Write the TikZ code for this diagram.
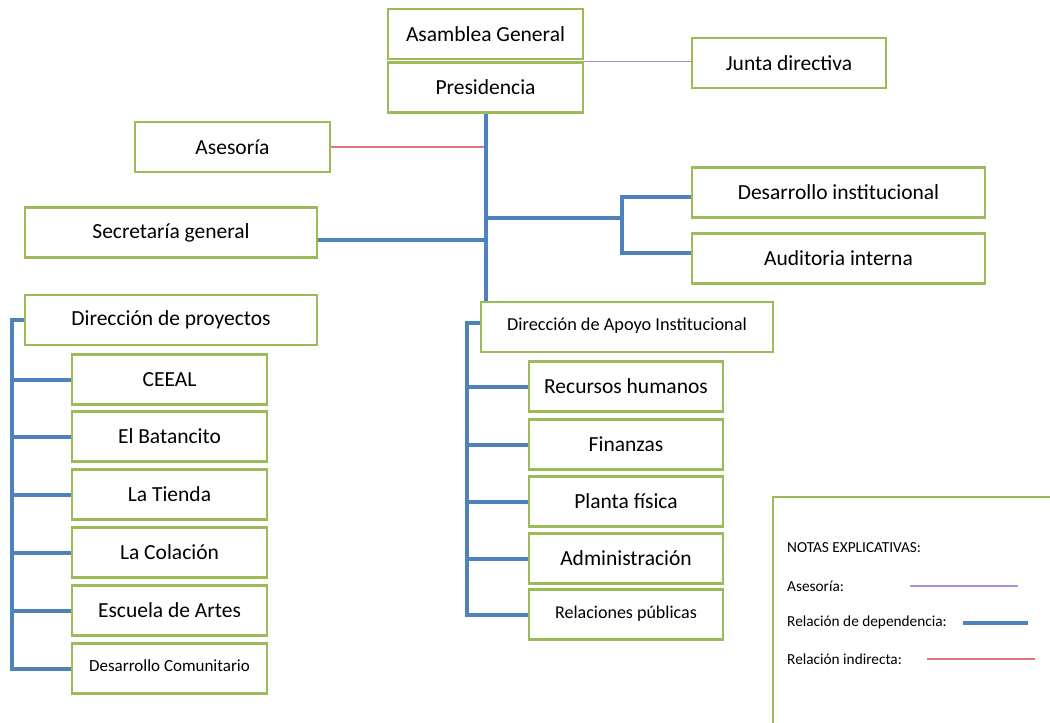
\documentclass[tikz,border=0pt]{standalone}
\usepackage{fontspec}
\setmainfont{Carlito}
\definecolor{boxgreen}{RGB}{155,187,89}
\definecolor{depblue}{RGB}{79,129,189}
\definecolor{asespurple}{RGB}{175,140,215}
\definecolor{indred}{RGB}{222,120,120}
\begin{document}
\begin{tikzpicture}[x=1pt, y=-1pt,
    unit/.style={draw=boxgreen, line width=2.2pt, fill=white, inner sep=2pt,
        minimum width=195pt, minimum height=50pt, font=\fontsize{21.5}{25}\selectfont},
    wideunit/.style={unit, minimum width=292pt},
    smallunit/.style={unit, font=\fontsize{15}{18}\selectfont},
    dep/.style={draw=depblue, line width=4pt},
    ases/.style={draw=asespurple, line width=1.4pt},
    ind/.style={draw=indred, line width=1.2pt},
    legtext/.style={anchor=west, inner sep=0pt, font=\fontsize{15.3}{18}\selectfont}]
    \useasboundingbox (0,0) rectangle (1050,723);
    \fill[white] (0,0) rectangle (1050,723);

    % cabeza
    \node[unit] (asamblea) at (485.5,34) {Asamblea General};
    \node[unit] (presidencia) at (485.5,87.5) {Presidencia};
    \node[unit, minimum width=194pt] (junta) at (789,63) {Junta directiva};
    \node[unit] (asesoria) at (232.5,147) {Asesoría};
    \node[wideunit] (secretaria) at (171,232.5) {Secretaría general};
    \node[wideunit, minimum width=293pt] (desinst) at (838.5,192.5) {Desarrollo institucional};
    \node[wideunit, minimum width=293pt] (auditoria) at (838.5,258.5) {Auditoria interna};

    % direcciones
    \node[wideunit] (proyectos) at (171,320) {\raisebox{3pt}{Dirección de proyectos}};
    \node[smallunit, minimum width=292pt, font=\fontsize{18.3}{22}\selectfont] (apoyo) at (627,327) {\raisebox{5pt}{Dirección de Apoyo Institucional}};

    \node[unit] (ceeal) at (169.5,379.5) {CEEAL};
    \node[unit] (batancito) at (169.5,436.5) {El Batancito};
    \node[unit] (tienda) at (169.5,494.5) {La Tienda};
    \node[unit] (colacion) at (169.5,552.5) {La Colación};
    \node[unit] (artes) at (169.5,610.5) {Escuela de Artes};
    \node[smallunit, font=\fontsize{17}{20}\selectfont] (comunitario) at (169.5,668.5) {\raisebox{6pt}{Desarrollo Comunitario}};

    \node[unit, minimum width=194pt] (rrhh) at (626,386.5) {Recursos humanos};
    \node[unit, minimum width=194pt] (finanzas) at (626,444.5) {Finanzas};
    \node[unit, minimum width=194pt] (planta) at (626,501.5) {Planta física};
    \node[unit, minimum width=194pt] (admin) at (626,558.5) {Administración};
    \node[smallunit, minimum width=194pt, font=\fontsize{18}{21}\selectfont] (publicas) at (626,614.5) {\raisebox{5pt}{Relaciones públicas}};

    % relaciones
    \coordinate (fork) at (622,218);
    \draw[ases] (presidencia.north east) -- (presidencia.north east -| junta.west);
    \draw[ind] (asesoria.east) -- (asesoria.east -| presidencia.south);
    \draw[dep] (presidencia.south) -- (presidencia.south |- apoyo.north);
    \draw[dep] ([yshift=-7pt]secretaria.east) -- ([yshift=-7pt]secretaria.east -| presidencia.south);
    \draw[dep] (presidencia.south |- fork) -- (fork);
    \draw[dep] ([yshift=-4pt]desinst.west) -| (fork) |- ([yshift=6pt]auditoria.west);
    \foreach \n in {ceeal,batancito,tienda,colacion,artes,comunitario}
        \draw[dep] (proyectos.west) -- ++(-12,0) |- (\n.west);
    \foreach \n in {rrhh,finanzas,planta,admin,publicas}
        \draw[dep] ([yshift=4pt]apoyo.west) -- ++(-13,0) |- (\n.west);

    % notas
    \begin{scope}
        \clip (0,0) rectangle (1050,723);
        \draw[boxgreen, line width=2.2pt] (773,760) -- (773,497) -- (1070,497);
    \end{scope}
    \node[legtext] (notas) at (787,548) {NOTAS EXPLICATIVAS:};
    \node[legtext] (lases) at (787,586) {Asesoría:};
    \node[legtext] (ldep) at (787,622) {Relación de dependencia:};
    \node[legtext] (lind) at (787,659) {Relación indirecta:};
    \draw[ases] (910,586) -- (1018,586);
    \draw[dep] (963,623) -- (1028,623);
    \draw[ind] (927,659) -- (1035,659);
\end{tikzpicture}
\end{document}
